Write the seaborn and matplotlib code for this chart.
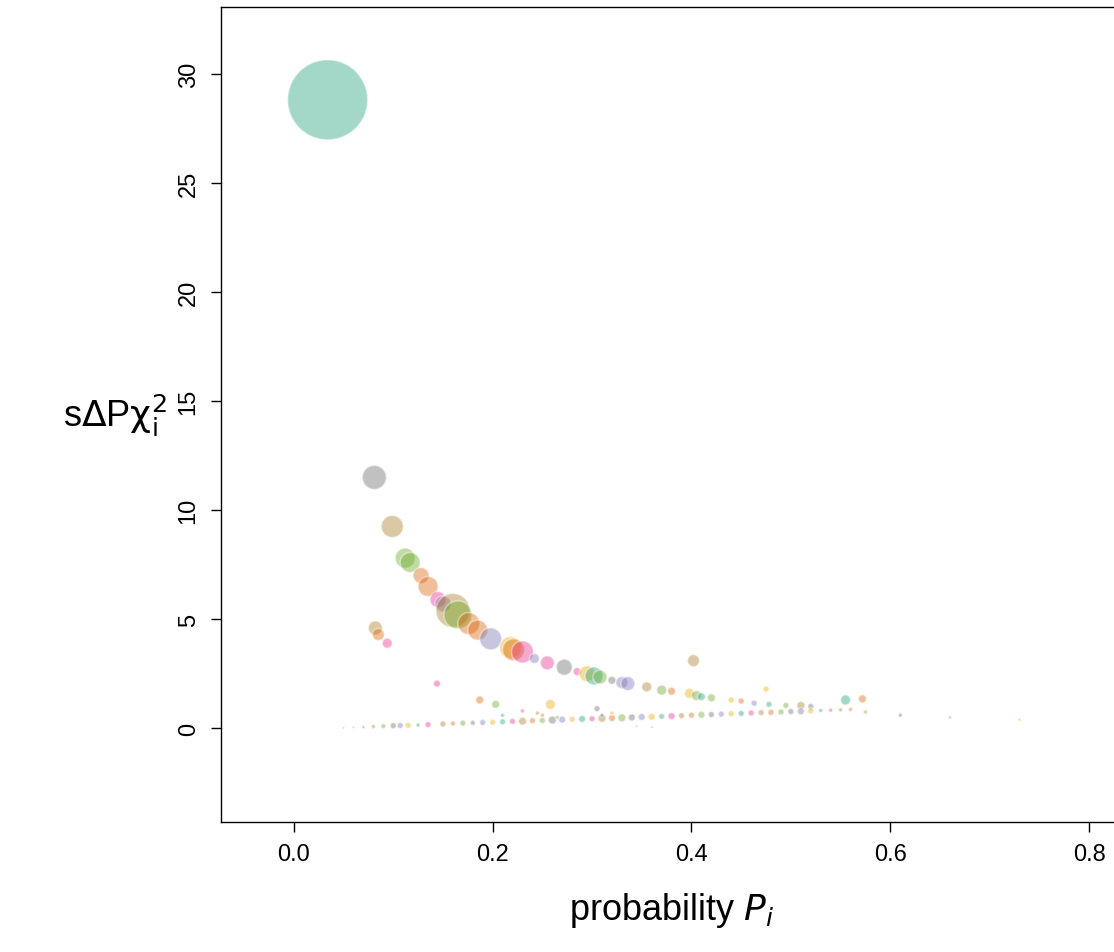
import matplotlib
matplotlib.use("Agg")
import matplotlib.pyplot as plt
import seaborn as sns
import numpy as np
import pandas as pd

# upper curve + outliers: x, y, radius(px)
curve_x = [0.034,0.081,0.099,0.112,0.117,0.128,0.135,0.145,0.150,0.160,0.165,0.176,0.185,0.198,0.218,0.221,0.230,
           0.242,0.255,0.272,0.285,0.295,0.302,0.308,0.320,0.330,0.336,0.355,0.370,0.380,0.398,0.405,0.410,0.420,
           0.082,0.085,0.094,0.144,0.402,0.187,0.203,0.258,0.475,0.555,0.572,0.440,0.450,0.463,0.478,0.495,0.510,0.520]
curve_y = [28.8,11.5,9.25,7.8,7.6,7.0,6.5,5.9,5.7,5.4,5.2,4.8,4.5,4.1,3.7,3.6,3.5,
           3.2,3.0,2.8,2.6,2.5,2.4,2.35,2.2,2.1,2.05,1.9,1.75,1.7,1.6,1.5,1.45,1.4,
           4.6,4.3,3.9,2.05,3.1,1.3,1.1,1.1,1.8,1.3,1.35,1.3,1.25,1.15,1.1,1.05,1.05,1.0]
curve_r = [40,12,11,10,10,8,10,8,8,17,14,11,10,11,11,11,11,
           5,7,8,4,8,9,7,4,6,7,5,5,4,5,5,4,4,
           7,6,5,3.5,6,4,4,5,3,5,4,3,3,3,3,3,4,3]
curve_c = [0,7,6,4,4,1,1,3,2,6,4,1,1,2,5,1,3,
           2,3,7,3,5,0,4,7,2,2,6,4,1,5,4,0,4,
           6,1,3,3,6,1,4,5,5,0,1,5,1,2,0,4,6,7]
# lower band
band_x = [0.05,0.06,0.07,0.08,0.09,0.10,0.107,0.115,0.125,0.135,0.15,0.16,0.17,0.18,0.19,0.20,0.21,0.22,0.23,0.24,
          0.25,0.26,0.27,0.28,0.29,0.30,0.31,0.32,0.33,0.34,0.35,0.36,0.37,0.38,0.39,0.40,0.41,0.42,0.43,0.44,
          0.45,0.46,0.47,0.48,0.49,0.50,0.51,0.52,0.53,0.54,0.55,0.56,0.575,0.61,0.66,0.73,
          0.21,0.23,0.245,0.25,0.265,0.305,0.31,0.32,0.345,0.36]
band_y = [0.02,0.04,0.06,0.08,0.1,0.12,0.13,0.14,0.15,0.17,0.2,0.22,0.24,0.25,0.27,0.28,0.3,0.32,0.33,0.35,
          0.36,0.38,0.4,0.41,0.43,0.44,0.46,0.47,0.48,0.5,0.52,0.53,0.55,0.56,0.58,0.6,0.62,0.63,0.65,0.67,
          0.68,0.7,0.72,0.73,0.75,0.77,0.78,0.8,0.82,0.83,0.85,0.87,0.75,0.6,0.5,0.4,
          0.6,0.8,0.7,0.6,0.5,0.9,0.6,0.7,0.1,0.05]
band_r = [1,1,1.5,2,2.5,3,3,3,2,3,3,2.5,3,2.5,3,3,3,3,4,3,
          3,4,3.5,3,3.5,3,4,3.5,4,3.5,3.5,3.5,3,3.5,3,3,3.5,3,3,3,
          3,3,3,3,3,3,3.5,3,2,2,2,2,2,2,1.5,1.5,
          2,2,2,2,2,3,2,2,1,1]

df = pd.DataFrame({"x": curve_x + band_x, "y": curve_y + band_y, "r": curve_r + band_r})
df["s"] = (2 * df["r"] * 0.72) ** 2
pal = sns.color_palette("Dark2", 8)
df["c"] = curve_c + [(i * 3) % 8 for i in range(len(band_x))]

sns.set_style("white")
plt.rcParams["font.family"] = ["Liberation Sans", "DejaVu Sans"]
plt.rcParams["text.color"] = "black"
plt.rcParams["axes.labelcolor"] = "black"
fig = plt.figure(figsize=(11.14, 9.53), dpi=100)
ax = fig.add_axes([0.198, 0.136, 0.81, 0.856])
sns.scatterplot(data=df, x="x", y="y", size="s", sizes=(df["s"].min(), df["s"].max()),
                hue="c", palette=pal, alpha=0.4, edgecolor="white", linewidth=1.2,
                legend=False, ax=ax)
ax.set_xlim(-0.0737, 0.834)
ax.set_ylim(-4.31, 33.07)
ax.set_xticks([0, 0.2, 0.4, 0.6, 0.8])
ax.set_xticklabels(["0.0", "0.2", "0.4", "0.6", "0.8"])
ax.set_yticks([0, 5, 10, 15, 20, 25, 30])
for lbl in ax.get_yticklabels():
    lbl.set_rotation(90); lbl.set_va("center")
ax.tick_params(axis="both", labelsize=17, length=7, width=1, direction="out", colors="black", pad=8,
               left=True, bottom=True)
for sp in ax.spines.values():
    sp.set_color("black"); sp.set_linewidth(1)
ax.set_xlabel("probability $P_i$", fontsize=26, labelpad=18)
ax.set_ylabel(r"s$\Delta$P$\mathrm{\chi}_\mathrm{i}^2$", fontsize=26, rotation=0, labelpad=45, va="center")
fig.savefig("out.png", dpi=100)
